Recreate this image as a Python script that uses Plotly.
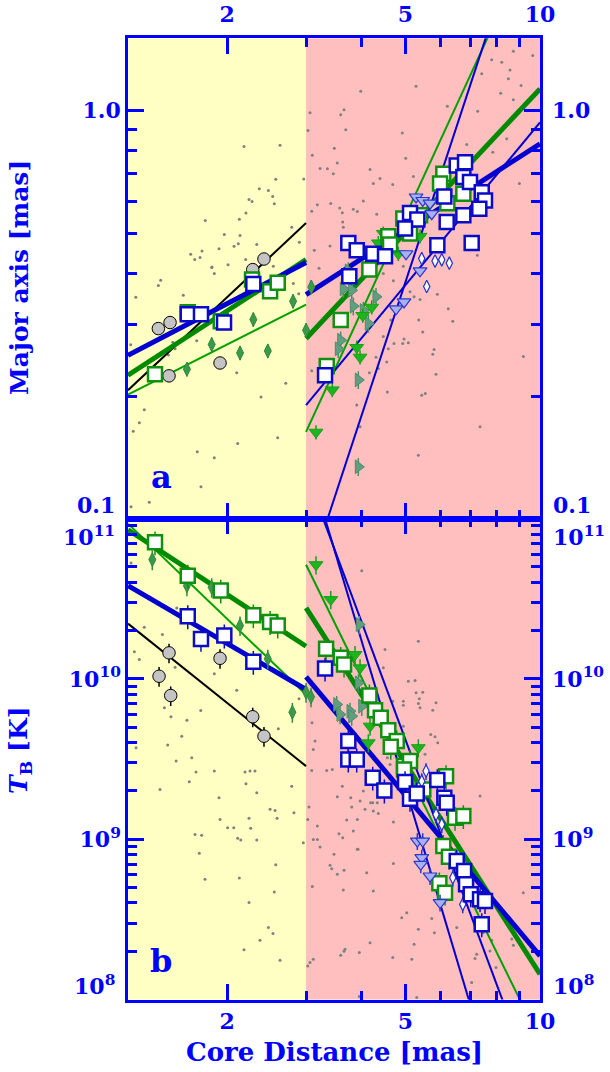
import math
import plotly.graph_objects as go

# ---------------- panel a : major axis [mas] ----------------
a_circle_x = [1.403, 1.490, 1.482, 1.927, 2.280, 2.416]
a_circle_y = [0.2936, 0.3037, 0.2251, 0.2420, 0.4089, 0.4340]

a_bsq_x = [1.632, 1.747, 1.967, 2.287, 3.308, 3.729, 3.894, 4.241, 4.504, 3.748, 5.123, 5.319, 4.993,
           6.515, 6.799, 6.740, 6.975, 7.409, 7.535, 7.317, 6.740, 6.112, 6.187, 5.896, 7.036]
a_bsq_y = [0.318, 0.318, 0.304, 0.377, 0.226, 0.475, 0.456, 0.447, 0.441, 0.394, 0.562, 0.542, 0.515,
           0.734, 0.748, 0.688, 0.669, 0.632, 0.603, 0.576, 0.555, 0.617, 0.534, 0.469, 0.475]

a_gsq_x = [1.379, 1.632, 1.934, 2.272, 2.493, 2.593, 3.337, 3.586, 4.156, 4.581, 4.622, 4.949,
           6.080, 5.979, 6.740, 6.207, 5.394, 5.123]
a_gsq_y = [0.227, 0.322, 0.306, 0.387, 0.362, 0.380, 0.238, 0.308, 0.409, 0.493, 0.471, 0.545,
           0.701, 0.663, 0.626, 0.594, 0.555, 0.501]

a_dia_x = [1.625, 1.846, 2.136, 2.464, 2.287, 2.806, 3.082, 3.000]
a_dia_y = [0.2336, 0.2685, 0.2561, 0.2590, 0.3089, 0.3423, 0.3709, 0.2909]

a_gtri_x = [3.158, 3.434, 3.894, 3.961, 4.016, 4.206, 4.352, 4.465, 4.824, 5.394]
a_gtri_y = [0.164, 0.208, 0.264, 0.250, 0.316, 0.331, 0.475, 0.501, 0.447, 0.493]

a_teal_x = [3.634, 3.795, 3.729, 3.826, 4.028, 4.300, 4.133, 3.586, 3.542, 3.926, 3.926]
a_teal_y = [0.367, 0.364, 0.406, 0.333, 0.325, 0.351, 0.302, 0.275, 0.262, 0.220, 0.135]

a_ltri_x = [5.018, 5.284, 5.469, 5.678, 5.728, 5.394, 4.967, 4.767]
a_ltri_y = [0.447, 0.615, 0.603, 0.594, 0.560, 0.406, 0.341, 0.328]

a_bdia_x = [5.441, 5.827, 6.031, 6.271, 5.582]
a_bdia_y = [0.435, 0.429, 0.432, 0.424, 0.372]

# fitted power laws (end points)
a_fit_black_x = [1.2, 3.0];  a_fit_black_y = [0.2077, 0.5313]
a_fit_bthick1_x = [1.2, 3.0]; a_fit_bthick1_y = [0.2527, 0.4256]
a_fit_gthick1_x = [1.2, 3.0]; a_fit_gthick1_y = [0.2259, 0.4325]
a_fit_gthin1_x = [1.2, 3.0];  a_fit_gthin1_y = [0.2027, 0.3360]
a_fit_bthick2_x = [3.0, 10.0]; a_fit_bthick2_y = [0.3554, 0.8295]
a_fit_gthick2_x = [3.0, 10.0]; a_fit_gthick2_y = [0.2776, 1.129]
a_fit_bthin2_x = [3.0, 10.0];  a_fit_bthin2_y = [0.1909, 0.935]
a_fit_gthin2_x = [3.0, 8.0];   a_fit_gthin2_y = [0.1643, 1.68]
a_fit_bthin3_x = [3.0, 8.0];   a_fit_bthin3_y = [0.0698, 1.81]

a_dots_x = [2.180, 2.624, 2.567, 2.359, 2.471, 2.527, 2.237, 2.272, 2.548, 2.202, 2.128, 1.786, 1.970, 2.136,
            2.117, 2.071, 1.917, 1.756, 1.657, 1.692, 1.739, 1.849, 2.008, 2.199, 2.328, 2.898, 2.965, 2.787,
            3.062, 3.586, 3.648, 3.030, 3.680, 3.470, 3.098, 3.224, 3.348, 3.452, 3.524, 3.180, 3.407, 3.567,
            3.615, 3.089, 3.826, 3.906, 3.634, 3.394, 3.130, 3.207, 3.975, 5.284, 6.207, 4.924, 5.011, 4.170,
            4.389, 4.241, 4.687, 4.028, 4.316, 7.257, 6.859, 7.800, 8.213, 8.718, 9.634, 8.570, 7.409, 8.496,
            9.071, 8.170, 8.718, 7.842, 8.426, 8.992, 5.212, 7.242, 3.623, 1.217, 1.249, 1.305, 1.272, 1.233,
            1.403, 1.420, 1.595, 1.709, 1.714, 1.871, 1.747, 1.339, 1.219, 2.100, 2.110, 2.379, 2.593, 2.703,
            1.846, 1.871, 2.810, 2.889, 2.535, 1.529, 1.511, 1.477, 3.089, 3.894, 3.961, 4.465, 4.702, 4.949,
            5.123, 5.231, 5.394, 5.896, 6.238, 6.383, 5.358, 5.469, 4.967, 4.934, 5.078, 4.718, 4.581, 4.300,
            4.465, 4.639, 5.798, 5.759, 5.856, 4.544, 4.352, 4.156, 4.559, 5.441, 5.543, 9.177, 7.345, 5.347]
a_dots_y = [0.817, 0.822, 0.679, 0.644, 0.638, 0.617, 0.606, 0.600, 0.592, 0.562, 0.543, 0.539, 0.498, 0.495,
            0.473, 0.466, 0.460, 0.454, 0.446, 0.433, 0.438, 0.415, 0.420, 0.433, 0.471, 0.477, 0.680, 0.519,
            0.987, 0.976, 1.004, 0.894, 0.897, 0.809, 0.777, 0.722, 0.721, 0.701, 0.744, 0.589, 0.593, 0.578,
            0.563, 0.568, 0.574, 0.567, 0.519, 0.467, 0.456, 0.412, 1.114, 1.146, 1.024, 0.881, 0.765, 0.718,
            0.682, 0.663, 0.660, 0.601, 0.558, 0.996, 0.826, 1.329, 1.311, 1.395, 1.362, 1.256, 1.229, 1.195,
            1.151, 1.102, 1.062, 0.791, 0.853, 0.663, 0.690, 0.443, 0.534, 0.268, 0.350, 0.186, 0.173, 0.165,
            0.374, 0.385, 0.354, 0.274, 0.147, 0.142, 0.1207, 0.1106, 0.1079, 0.229, 0.154, 0.200, 0.159, 0.216,
            0.414, 0.400, 0.378, 0.357, 0.417, 0.262, 0.272, 0.253, 0.2315, 0.191, 0.169, 0.400, 0.384, 0.417,
            0.361, 0.351, 0.3455, 0.356, 0.328, 0.306, 0.308, 0.288, 0.277, 0.270, 0.271, 0.270, 0.262, 0.250,
            0.281, 0.308, 0.261, 0.254, 0.227, 0.2434, 0.2346, 0.229, 0.2057, 0.202, 0.204, 0.251, 0.169, 0.144]

# ---------------- panel b : brightness temperature [K] ----------------
b_circle_x = [1.482, 1.408, 1.495, 1.927, 2.280, 2.416]
b_circle_y = [1.452e10, 1.038e10, 7.87e9, 1.343e10, 5.80e9, 4.39e9]

b_bsq_x = [1.632, 1.747, 1.970, 2.287, 3.308, 3.729, 3.729, 3.894, 4.228, 4.489, 4.993, 5.123, 5.303,
           5.896, 6.112, 6.187, 6.515, 6.765, 6.835, 7.001, 7.345, 7.535, 7.409]
b_bsq_y = [2.455e10, 1.775e10, 1.862e10, 1.276e10, 1.159e10, 4.09e9, 3.14e9, 3.14e9, 2.42e9, 2.01e9,
           2.27e9, 1.788e9, 1.929e9, 2.335e9, 1.814e9, 1.688e9, 7.31e8, 6.33e8, 5.23e8, 4.53e8, 4.22e8,
           4.12e8, 2.95e8]

b_gsq_x = [1.379, 1.632, 1.934, 2.287, 2.493, 2.593, 3.326, 3.586, 3.648, 4.156, 4.279, 4.406, 4.581,
           4.784, 4.639, 4.967, 5.123, 4.967, 5.485, 6.166, 6.458, 6.740, 6.080, 6.260, 5.957, 6.134]
b_gsq_y = [7.10e10, 4.40e10, 3.55e10, 2.49e10, 2.265e10, 2.148e10, 1.538e10, 1.352e10, 1.228e10, 7.87e9,
           6.37e9, 5.71e9, 4.78e9, 4.09e9, 3.77e9, 2.855e9, 3.07e9, 2.72e9, 2.04e9, 2.47e9, 1.361e9,
           1.393e9, 9.06e8, 7.76e8, 5.30e8, 4.64e8]

b_dia_x = [1.360, 1.625, 1.846, 2.136, 2.464, 2.796, 3.000, 3.078]
b_dia_y = [5.54e10, 3.81e10, 3.72e10, 2.148e10, 1.333e10, 6.19e9, 8.25e9, 7.72e9]

b_gtri_x = [3.158, 3.407, 3.860, 3.961, 4.170, 4.133, 5.347]
b_gtri_y = [5.15e10, 3.12e10, 1.417e10, 1.171e10, 5.07e9, 3.99e9, 3.72e9]

b_teal_x = [3.946, 3.926, 3.513, 3.573, 3.762, 3.795, 3.996]
b_teal_y = [2.18e10, 9.44e9, 6.92e9, 5.99e9, 6.28e9, 5.85e9, 6.75e9]

b_ltri_x = [5.319, 5.469, 5.441, 5.413, 5.678, 5.979]
b_ltri_y = [9.73e8, 9.73e8, 7.67e8, 6.97e8, 5.89e8, 4.02e8]

b_bdia_x = [5.563, 5.441, 5.856, 6.031, 6.383, 6.719]
b_bdia_y = [2.66e9, 2.30e9, 1.427e9, 1.237e9, 5.75e8, 3.92e8]

b_fit_black_x = [1.2, 3.0];  b_fit_black_y = [2.21e10, 2.855e9]
b_fit_bthick1_x = [1.2, 3.0]; b_fit_bthick1_y = [3.81e10, 8.58e9]
b_fit_gthick1_x = [1.2, 3.0]; b_fit_gthick1_y = [8.51e10, 1.596e10]
b_fit_gthin1_x = [1.2, 3.0];  b_fit_gthin1_y = [9.28e10, 7.98e9]
b_fit_bthick2_x = [3.0, 10.0]; b_fit_bthick2_y = [1.03e10, 1.87e8]
b_fit_gthick2_x = [3.0, 10.0]; b_fit_gthick2_y = [2.77e10, 1.438e8]
b_fit_gthin2_x = [3.0, 10.0];  b_fit_gthin2_y = [5.15e10, 5.55e7]
b_fit_bthinA_x = [3.2, 7.2];   b_fit_bthinA_y = [1.363e11, 7.0e7]
b_fit_bthinB_x = [3.15, 8.6];  b_fit_bthinB_y = [1.336e11, 7.24e7]

b_dots_x = [1.219, 1.305, 1.432, 1.240, 1.272, 1.542, 1.871, 1.529, 1.447, 1.497, 1.625, 1.745, 1.582, 2.100,
            2.601, 2.893, 1.251, 1.472, 1.666, 3.142, 3.114, 1.537, 1.703, 1.871, 2.191, 2.248, 2.307, 1.415,
            1.645, 2.202, 2.328, 2.787, 1.917, 2.493, 2.558, 2.819, 1.927, 2.237, 2.584, 2.004, 2.068, 2.256,
            1.694, 1.753, 2.110, 2.144, 2.328, 2.958, 1.732, 2.567, 1.784, 2.128, 2.548, 2.237, 2.471, 2.531,
            2.367, 2.180, 2.624, 3.026, 3.046, 3.089, 3.337, 3.434, 3.615, 3.524, 3.776, 3.795, 3.180, 3.114,
            3.180, 3.224, 3.554, 3.826, 3.906, 3.464, 3.394, 3.424, 3.648, 3.524, 3.098, 3.634, 3.586, 3.648,
            3.026, 3.062, 3.114, 3.946, 3.906, 3.961, 4.241, 4.063, 4.352, 4.702, 3.698, 4.228, 3.623, 3.920,
            4.702, 4.099, 4.241, 5.037, 4.909, 5.728, 5.347, 5.806, 4.170, 3.666, 4.687, 5.231, 5.169, 6.515,
            7.221, 7.158, 7.468, 7.666, 7.800, 7.732, 8.646, 8.718, 9.177, 7.345, 7.975, 7.036, 5.303, 3.946,
            3.996, 5.347, 4.504, 4.465, 5.078, 5.257, 5.284, 5.469, 5.374, 5.347, 5.856, 5.759, 5.394, 4.949,
            4.949, 4.949, 5.699, 5.827, 5.908, 5.534, 3.094, 4.028, 4.185, 4.328, 4.559, 4.622, 4.687]
b_dots_y = [5.28e10, 2.10e10, 1.888e10, 1.473e10, 1.319e10, 2.77e10, 1.075e10, 1.181e10, 6.60e9, 5.80e9,
            5.52e9, 6.35e9, 4.39e9, 8.49e9, 4.88e9, 7.50e9, 3.72e9, 3.86e9, 3.22e9, 4.09e9, 3.63e9, 3.07e9,
            2.62e9, 2.66e9, 2.62e9, 2.66e9, 2.66e9, 2.04e9, 2.28e9, 2.22e9, 1.95e9, 2.14e9, 1.814e9, 1.534e9,
            1.511e9, 1.463e9, 1.328e9, 1.348e9, 1.348e9, 1.180e9, 1.180e9, 1.168e9, 1.071e9, 1.056e9, 1.012e9,
            9.87e8, 9.87e8, 9.51e8, 8.16e8, 6.93e8, 5.62e8, 5.72e8, 4.68e8, 4.02e8, 2.81e8, 2.58e8, 2.34e8,
            2.04e8, 1.758e8, 1.328e9, 1.585e9, 2.68e9, 2.68e9, 2.72e9, 2.14e9, 1.84e9, 1.814e9, 1.585e9,
            1.207e9, 9.97e8, 9.97e8, 8.93e8, 1.082e9, 1.123e9, 8.64e8, 8.04e8, 6.87e8, 6.55e8, 6.39e8, 6.04e8,
            5.06e8, 4.82e8, 1.888e8, 2.0e8, 1.619e8, 1.70e8, 1.783e8, 1.963e8, 1.328e9, 1.727e9, 1.496e9,
            1.534e9, 1.448e9, 1.278e9, 1.315e9, 1.688e9, 1.021e9, 8.64e8, 7.06e8, 6.18e8, 4.75e8, 3.48e8,
            3.24e8, 3.20e8, 2.74e8, 2.61e8, 2.26e8, 2.06e8, 1.827e8, 2.21e8, 1.783e8, 2.81e8, 1.915e8, 1.80e8,
            2.61e8, 2.74e8, 2.34e8, 2.01e8, 2.38e8, 2.18e8, 4.64e8, 1.856e9, 1.582e8, 1.276e8, 1.029e8, 1.044e8,
            4.73e10, 1.715e10, 1.523e10, 1.171e10, 9.66e9, 9.76e9, 8.18e9, 8.25e9, 7.50e9, 7.02e9, 7.09e9,
            6.37e9, 6.60e9, 7.25e9, 6.85e9, 5.07e9, 4.50e9, 4.35e9, 3.99e9, 3.38e9, 5.32e9, 1.994e9, 1.688e9,
            1.688e9, 3.22e9, 2.92e9, 7.25e9]

x_major = [2, 5, 10]
x_minor = [3, 4, 6, 7, 8, 9]
x_ticktext = ["2", "5", "10"]
a_major = [0.1, 1.0]
a_minor = [0.2, 0.3, 0.4, 0.5, 0.6, 0.7, 0.8, 0.9]
a_mid_vals = [1.0]
a_mid_text = ["1.0"]
a_edge_text = "0.1"
b_major = [1e8, 1e9, 1e10, 1e11]
b_minor = [k * 10 ** n for n in (8, 9, 10) for k in range(2, 10)]
b_mid_vals = [1e9, 1e10]
b_mid_text = ["10<sup>9</sup>", "10<sup>10</sup>"]
b_edge_text = ["10<sup>8</sup>", "10<sup>11</sup>"]

# ---------------- styling ----------------
W, H = 610, 1072
BLUE = "#0000FF"
DBLUE = "#0000D0"
GREEN = "#008A00"
TGREEN = "#00A000"
BGREEN = "#1EB41E"
TEAL = "#5F9F80"
DGREEN = "#3A9A4A"
LBLUE = "#A8B0F0"
GRAY = "#808080"
FONT = "DejaVu Serif"
TICKFONT = dict(family=FONT, size=22, color=BLUE, weight="bold")

XD = [128 / W, 540 / W]
YA = [1 - 518.5 / H, 1 - 38.3 / H]
YB = [1 - 999.5 / H, 1 - 518.5 / H]
XR = [math.log10(1.2), 1]
AR = [-0.9957, 0.1761]
BR = [8, 11]

fig = go.Figure()


def add(panel, xs, ys, **kw):
    fig.add_trace(go.Scatter(x=xs, y=ys, xaxis="x" if panel == "a" else "x2",
                             yaxis="y" if panel == "a" else "y2", showlegend=False,
                             hoverinfo="skip", cliponaxis=True, **kw))


def line(panel, xs, ys, color, width):
    add(panel, xs, ys, mode="lines", line=dict(color=color, width=width))


def marks(panel, xs, ys, symbol, size, fill, lcol, lw, err=0.0, ecol=None):
    kw = {}
    if err:
        kw["error_y"] = dict(type="percent", value=err, color=ecol or lcol, thickness=1.5, width=0)
    add(panel, xs, ys, mode="markers",
        marker=dict(symbol=symbol, size=size, color=fill, line=dict(color=lcol, width=lw)), **kw)


# gray background dots
add("a", a_dots_x, a_dots_y, mode="markers", marker=dict(size=3, color=GRAY))
add("b", b_dots_x, b_dots_y, mode="markers", marker=dict(size=3, color=GRAY))

# fit lines
for p in ("a", "b"):
    g = globals()
    line(p, g[p + "_fit_black_x"], g[p + "_fit_black_y"], "black", 2)
    line(p, g[p + "_fit_gthin1_x"], g[p + "_fit_gthin1_y"], TGREEN, 2)
    line(p, g[p + "_fit_gthin2_x"], g[p + "_fit_gthin2_y"], TGREEN, 2)
    line(p, g[p + "_fit_gthick1_x"], g[p + "_fit_gthick1_y"], GREEN, 5)
    line(p, g[p + "_fit_gthick2_x"], g[p + "_fit_gthick2_y"], GREEN, 5)
    line(p, g[p + "_fit_bthick1_x"], g[p + "_fit_bthick1_y"], DBLUE, 5)
    line(p, g[p + "_fit_bthick2_x"], g[p + "_fit_bthick2_y"], DBLUE, 5)
line("a", a_fit_bthin2_x, a_fit_bthin2_y, DBLUE, 2)
line("a", a_fit_bthin3_x, a_fit_bthin3_y, DBLUE, 2)
line("b", b_fit_bthinA_x, b_fit_bthinA_y, DBLUE, 2)
line("b", b_fit_bthinB_x, b_fit_bthinB_y, DBLUE, 2)

# markers, panel a
marks("a", a_teal_x, a_teal_y, "triangle-right", 12, TEAL, "#4A8C6A", 1, 5)
marks("a", a_dia_x, a_dia_y, "diamond-tall", 10, DGREEN, "#2E8A3E", 1, 4)
marks("a", a_circle_x, a_circle_y, "circle", 12.5, "#C4C4C4", "black", 1, 2, "black")
marks("a", a_gtri_x, a_gtri_y, "triangle-down", 12, BGREEN, "#18A018", 1, 4)
marks("a", a_gsq_x, a_gsq_y, "square", 14, "white", "#109010", 2.5)
marks("a", a_ltri_x, a_ltri_y, "triangle-down", 12, LBLUE, "#2838D0", 1.2)
marks("a", a_bdia_x, a_bdia_y, "diamond-tall", 9, "white", "#2030D0", 1.2)
marks("a", a_bsq_x, a_bsq_y, "square", 14, "white", "#0A0AC8", 2.5)

# markers, panel b
marks("b", b_teal_x, b_teal_y, "triangle-right", 12, TEAL, "#4A8C6A", 1, 13)
marks("b", b_dia_x, b_dia_y, "diamond-tall", 10, DGREEN, "#2E8A3E", 1, 14)
marks("b", b_circle_x, b_circle_y, "circle", 12.5, "#C4C4C4", "black", 1, 14, "black")
marks("b", b_gtri_x, b_gtri_y, "triangle-down", 12, BGREEN, "#18A018", 1, 13)
marks("b", b_gsq_x, b_gsq_y, "square", 14, "white", "#109010", 2.5, 17)
marks("b", b_ltri_x, b_ltri_y, "triangle-down", 12, LBLUE, "#2838D0", 1.2, 12)
marks("b", b_bdia_x, b_bdia_y, "diamond-tall", 9, "white", "#2030D0", 1.2, 12)
marks("b", b_bsq_x, b_bsq_y, "square", 14, "white", "#0A0AC8", 2.5, 17)

# empty traces so the label-only overlay axes exist
fig.add_trace(go.Scatter(x=[], y=[], xaxis="x3", yaxis="y", showlegend=False, hoverinfo="skip"))
fig.add_trace(go.Scatter(x=[], y=[], xaxis="x", yaxis="y3", showlegend=False, hoverinfo="skip"))
fig.add_trace(go.Scatter(x=[], y=[], xaxis="x2", yaxis="y4", showlegend=False, hoverinfo="skip"))


def ticks_common(major, minor):
    return dict(showline=True, linecolor=BLUE, linewidth=2.5, mirror="ticks",
                ticks="inside", ticklen=16, tickwidth=2.5, tickcolor=BLUE,
                tickmode="array", tickvals=major, showgrid=False, zeroline=False,
                automargin=False,
                minor=dict(tickmode="array", tickvals=minor, ticks="inside", ticklen=9,
                           tickwidth=2.5, tickcolor=BLUE, showgrid=False))


def label_axis(**kw):
    d = dict(showline=False, ticks="", showgrid=False, zeroline=False, automargin=False,
             tickmode="array", tickfont=TICKFONT)
    d.update(kw)
    return d


xaxis = dict(type="log", range=XR, domain=XD, anchor="y", showticklabels=False,
             **ticks_common(x_major, x_minor))
xaxis2 = dict(type="log", range=XR, domain=XD, anchor="y2", showticklabels=True,
              ticktext=x_ticktext, tickfont=TICKFONT, ticklabelstandoff=0,
              **ticks_common(x_major, x_minor))
xaxis3 = label_axis(type="log", range=XR, domain=XD, anchor="y", overlaying="x", side="top",
                    tickvals=x_major, ticktext=x_ticktext, ticklabelstandoff=11)

yaxis = dict(type="log", range=AR, domain=YA, anchor="x", showticklabels=True,
             ticktext=["", "1.0"], tickfont=TICKFONT, ticklabelstandoff=0,
             **ticks_common(a_major, a_minor))
yaxis2 = dict(type="log", range=BR, domain=YB, anchor="x2", showticklabels=True,
              ticktext=["", "10<sup>9</sup>", "10<sup>10</sup>", ""], tickfont=TICKFONT,
              ticklabelstandoff=0, **ticks_common(b_major, b_minor))
yaxis3 = label_axis(type="log", range=AR, domain=YA, anchor="x", overlaying="y", side="right",
                    tickvals=a_mid_vals, ticktext=a_mid_text, ticklabelstandoff=11)
yaxis4 = label_axis(type="log", range=BR, domain=YB, anchor="x2", overlaying="y2", side="right",
                    tickvals=b_mid_vals, ticktext=b_mid_text, ticklabelstandoff=11)

shapes = []
for xr, yr in (("x", "y domain"), ("x2", "y2 domain")):
    shapes.append(dict(type="rect", xref=xr, yref=yr, x0=1.2, x1=3.0, y0=0, y1=1,
                       fillcolor="#FFFFC3", line=dict(width=0), layer="below"))
    shapes.append(dict(type="rect", xref=xr, yref=yr, x0=3.0, x1=10.0, y0=0, y1=1,
                       fillcolor="#FFBFBF", line=dict(width=0), layer="below"))

ann = []


def txt(s, px, py, size=26, xanchor="center", yanchor="middle", angle=0):
    ann.append(dict(text=s, x=px / W, y=1 - py / H, xref="paper", yref="paper",
                    xanchor=xanchor, yanchor=yanchor, showarrow=False, textangle=angle,
                    font=dict(family=FONT, size=size, color=BLUE, weight="bold")))


# edge tick labels (shifted inward as in the original)
txt(a_edge_text, 117, 505, size=22, xanchor="right")
txt(a_edge_text, 551, 505, size=22, xanchor="left")
for t, py in zip(b_edge_text, [985, 536]):
    txt(t, 117, py, size=22, xanchor="right")
    txt(t, 551, py, size=22, xanchor="left")

txt("Core Distance [mas]", 334, 1052)
txt("Major axis [mas]", 20, 278, size=25, angle=-90)
txt("<i>T</i><sub>B</sub> [K]", 20, 750, size=25, angle=-90)
txt("a", 161, 477, size=32)
txt("b", 161, 961, size=32)

fig.update_layout(
    width=W, height=H, autosize=False, margin=dict(l=0, r=0, t=0, b=0, pad=0),
    paper_bgcolor="white", plot_bgcolor="white", showlegend=False,
    xaxis=xaxis, xaxis2=xaxis2, xaxis3=xaxis3,
    yaxis=yaxis, yaxis2=yaxis2, yaxis3=yaxis3, yaxis4=yaxis4,
    shapes=shapes, annotations=ann,
)

fig.write_html("out.html")
